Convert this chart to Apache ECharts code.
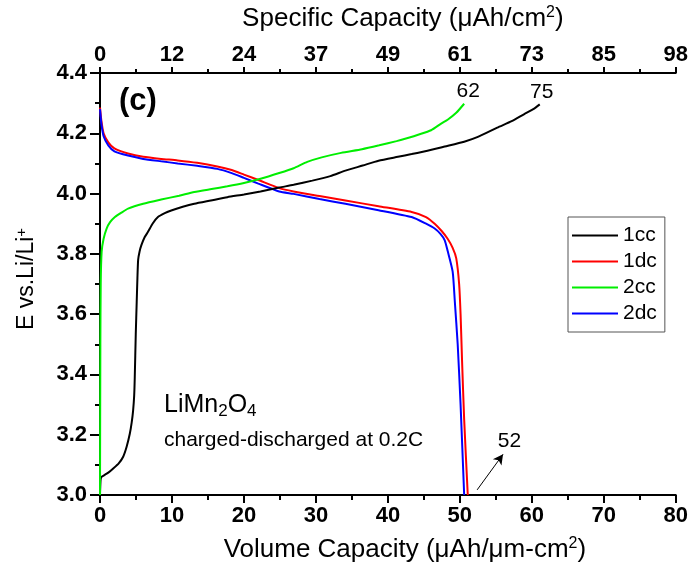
<!DOCTYPE html>
<html><head><meta charset="utf-8">
<script src="https://cdn.jsdelivr.net/npm/echarts@6/dist/echarts.min.js"></script>
<style>html,body{margin:0;padding:0;background:#fff}#c{width:691px;height:573px}</style>
</head><body><div id="c"></div>
<script>
// ---- data (x = volume capacity, y = potential) ----
var seriesNames = ['1cc', '1dc', '2cc', '2dc'];
var seriesColors = ['#000000', '#ff0000', '#00ee00', '#0000ff'];
var topTickLabels = ['0', '12', '24', '37', '49', '61', '73', '85', '98'];
var cc1 = [[0,3.0],[0.08,3.05],[0.2,3.06],[0.6,3.066],[1.2,3.075],[1.84,3.088],[2.6,3.105],[3.22,3.127],[3.7,3.16],[4.14,3.203],[4.4,3.24],[4.6,3.28],[4.75,3.33],[4.83,3.39],[4.97,3.534],[5.1,3.64],[5.2,3.72],[5.3,3.78],[5.5,3.808],[5.75,3.829],[6.2,3.855],[6.67,3.873],[7.3,3.9],[8.05,3.922],[9.0,3.935],[9.9,3.944],[11.5,3.956],[13.1,3.966],[15.4,3.977],[17.7,3.988],[20,3.997],[22.3,4.007],[24.9,4.02],[26.9,4.029],[29.5,4.043],[32,4.058],[34.1,4.076],[36.5,4.093],[38.7,4.109],[41.4,4.122],[43.3,4.131],[45.5,4.142],[47.9,4.156],[50.6,4.172],[52.5,4.188],[55.2,4.219],[57.2,4.24],[58.9,4.263],[60.2,4.28],[61.1,4.296]];
var dc1 = [[0,4.285],[0.2,4.24],[0.5,4.2],[1.15,4.17],[2,4.15],[3.9,4.133],[6,4.122],[8.5,4.115],[10.8,4.11],[13.5,4.102],[16.3,4.09],[18.3,4.078],[20,4.063],[22,4.045],[24.9,4.018],[26.9,4.007],[30.5,3.992],[34.1,3.977],[38.7,3.958],[43.3,3.939],[45.3,3.922],[46.5,3.9],[47.5,3.875],[48.3,3.85],[49,3.82],[49.5,3.785],[49.9,3.70],[50.1,3.6],[50.3,3.45],[50.6,3.25],[51.1,3.0]];
var cc2 = [[0,3.0],[0.05,3.5],[0.1,3.7],[0.23,3.807],[0.5,3.85],[0.92,3.884],[1.4,3.905],[2.07,3.922],[3.0,3.937],[3.9,3.95],[6,3.966],[8.5,3.98],[11,3.993],[13.1,4.005],[15.5,4.015],[17.7,4.024],[20,4.035],[22.3,4.049],[24.9,4.068],[26.9,4.084],[28.8,4.105],[30.8,4.12],[33.5,4.135],[36.4,4.147],[38.8,4.16],[41.2,4.174],[43,4.186],[44.2,4.195],[46,4.21],[47.4,4.232],[48.3,4.245],[49.5,4.268],[50.6,4.298]];
var dc2 = [[0,4.28],[0.2,4.23],[0.5,4.19],[1.15,4.16],[2,4.14],[3.9,4.126],[6,4.115],[8.5,4.107],[10.8,4.10],[13.5,4.092],[16.3,4.082],[18.3,4.068],[20,4.052],[22,4.033],[24.9,4.007],[26.9,3.999],[30.5,3.982],[34.1,3.966],[38.7,3.945],[43.3,3.922],[45.3,3.9],[46.5,3.884],[47.3,3.866],[47.9,3.845],[48.3,3.81],[49.0,3.741],[49.3,3.642],[49.7,3.5],[50.1,3.3],[50.6,3.0]];
var seriesData = [cc1, dc1, cc2, dc2];
var endLabels = [{name:'75', coord:[61.1, 4.296]}, {name:'62', coord:[50.6, 4.298]}];
var arrow52 = {label:'52', from:[52.4, 3.017], to:[56.0, 3.135], text:[56.9, 3.18]};

var FONT = 'Arial, "Liberation Sans", sans-serif';
var axisLine = {show:true, lineStyle:{color:'#000', width:2}};
var tickLabel = {color:'#000', fontSize:22, fontWeight:'bold', fontFamily:FONT};
function supRich(size){
  return {sup:{fontSize:size, fontFamily:FONT, color:'#000', verticalAlign:'top', padding:[0,0,Math.round(size*0.75),0]}};
}

var chart = echarts.init(document.getElementById('c'), null, {renderer:'canvas'});
var series = seriesNames.map(function(n, i){
  return {
    name:n, type:'line', data:seriesData[i], showSymbol:false, symbol:'none',
    smooth:0.2, lineStyle:{color:seriesColors[i], width:2}, itemStyle:{color:seriesColors[i]},
    z: (i===0?4:(i===1?2:(i===2?5:3))), animation:false
  };
});
function valueLabel(p){ return p.value; }
series[0].markPoint = {symbol:'circle', symbolSize:0, animation:false,
  data:[{coord:endLabels[0].coord, value:endLabels[0].name}],
  label:{show:true, position:'top', distance:2, offset:[2,0], color:'#000', fontSize:21, fontFamily:FONT, formatter:valueLabel}};
series[2].markPoint = {symbol:'circle', symbolSize:0, animation:false,
  data:[{coord:endLabels[1].coord, value:endLabels[1].name}],
  label:{show:true, position:'top', distance:2, offset:[4,0], color:'#000', fontSize:21, fontFamily:FONT, formatter:valueLabel}};
series[1].markLine = {silent:true, animation:false, symbol:['none','arrow'], symbolSize:[8,10],
  lineStyle:{color:'#000', width:1, type:'solid'}, label:{show:false},
  data:[[{coord:arrow52.from},{coord:arrow52.to}]]};
series[1].markPoint = {symbol:'circle', symbolSize:0, animation:false,
  data:[{coord:arrow52.text, value:arrow52.label}],
  label:{show:true, position:'inside', color:'#000', fontSize:21, fontFamily:FONT, formatter:valueLabel}};

chart.setOption({
  animation:false,
  backgroundColor:'#fff',
  grid:{left:100, right:12, top:70, bottom:78, containLabel:false},
  legend:{
    orient:'vertical', left:568, top:217, selectedMode:false,
    icon:'rect', itemWidth:46, itemHeight:2, itemGap:5,
    padding:[8,8,8,4], borderColor:'#555', borderWidth:1,
    textStyle:{color:'#000', fontSize:21, fontFamily:FONT},
    data:seriesNames.map(function(n,i){return {name:n, itemStyle:{color:seriesColors[i]}};})
  },
  xAxis:[
    {type:'value', position:'bottom', min:0, max:80, interval:10,
     axisLine:axisLine, splitLine:{show:false},
     axisTick:{show:true, inside:false, length:8, lineStyle:{width:2,color:'#000'}},
     minorTick:{show:true, splitNumber:2, length:5, lineStyle:{width:2,color:'#000'}},
     axisLabel:Object.assign({margin:10}, tickLabel),
     name:'Volume Capacity (\u03bcAh/\u03bcm-cm{sup|2})', nameLocation:'middle', nameGap:41,
     nameTextStyle:{color:'#000', fontSize:26, fontFamily:FONT, padding:[0,0,0,34], rich:supRich(16)}},
    {type:'value', position:'top', min:0, max:98, interval:12.25,
     axisLine:axisLine, splitLine:{show:false},
     axisTick:{show:true, inside:false, length:6, lineStyle:{width:2,color:'#000'}},
     minorTick:{show:true, splitNumber:2, length:4, lineStyle:{width:2,color:'#000'}},
     axisLabel:Object.assign({}, tickLabel, {margin:7,
       formatter:function(v){return topTickLabels[Math.round(v/12.25)];}}),
     name:'Specific Capacity (\u03bcAh/cm{sup|2})', nameLocation:'middle', nameGap:40,
     nameTextStyle:{color:'#000', fontSize:26, fontFamily:FONT, padding:[0,0,0,30], rich:supRich(16)}},
  ],
  yAxis:[
    {type:'value', position:'left', min:3.0, max:4.4, interval:0.2,
     axisLine:axisLine, splitLine:{show:false},
     axisTick:{show:true, inside:false, length:10, lineStyle:{width:2,color:'#000'}},
     minorTick:{show:true, splitNumber:2, length:5, lineStyle:{width:2,color:'#000'}},
     axisLabel:Object.assign({margin:13, formatter:function(v){return v.toFixed(1);}}, tickLabel),
     name:'E vs.Li/Li{sup|+}', nameLocation:'middle', nameGap:60, nameRotate:90,
     nameTextStyle:{color:'#000', fontSize:23, fontFamily:FONT, padding:[0,0,0,10], rich:supRich(15)}},
    {type:'value', position:'right', min:3.0, max:4.4, interval:0.2,
     axisLine:axisLine, splitLine:{show:false},
     axisTick:{show:true, inside:true, length:9, lineStyle:{width:2,color:'#000'}},
     minorTick:{show:true, splitNumber:2, length:5, lineStyle:{width:2,color:'#000'}},
     axisLabel:{show:false}}
  ],
  graphic:[
    {type:'text', left:119, top:86, style:{text:'(c)', fill:'#000', font:'bold 31px ' + FONT}},
    {type:'text', left:164, top:393, style:{text:'LiMn{sub|2}O{sub|4}', fill:'#000', font:'25px ' + FONT,
      rich:{sub:{fontSize:17, fontFamily:FONT, fill:'#000', verticalAlign:'bottom', padding:[12,0,0,0]}}}},
    {type:'text', left:164, top:430, style:{text:'charged-discharged at 0.2C', fill:'#000', font:'21px ' + FONT}}
  ],
  series:series
});
</script></body></html>
